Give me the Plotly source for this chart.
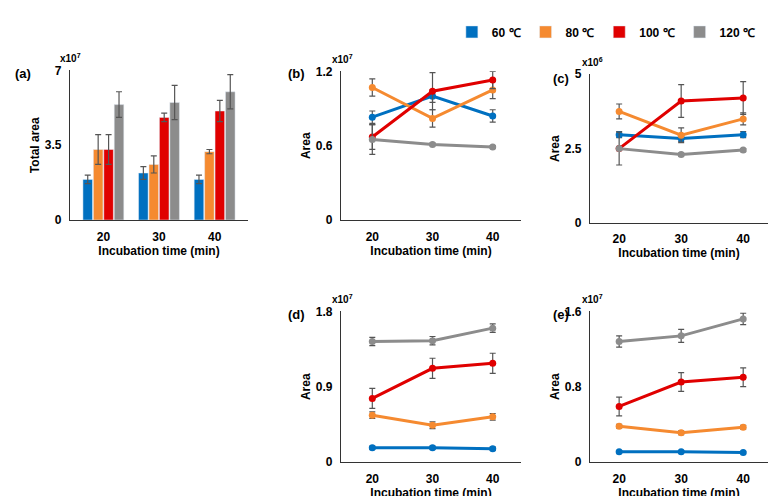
import plotly.graph_objects as go

times = [20, 30, 40]
time_labels = ["20", "30", "40"]
series = ["60 ℃", "80 ℃", "100 ℃", "120 ℃"]
colors = ["#0070C0", "#F58A30", "#E00000", "#8C8C8C"]

# Panel a (x10^7)
a_vals = [[1.9, 2.2, 1.9], [3.3, 2.6, 3.2], [3.3, 4.8, 5.1], [5.4, 5.5, 6.0]]
a_err = [[0.2, 0.3, 0.2], [0.7, 0.4, 0.1], [0.7, 0.2, 0.5], [0.6, 0.8, 0.8]]
# Panel b (x10^7)
b_vals = [[0.83, 1.00, 0.84], [1.07, 0.82, 1.05], [0.67, 1.04, 1.13], [0.65, 0.61, 0.59]]
b_err = [[0.05, 0.05, 0.05], [0.07, 0.07, 0.07], [0.10, 0.15, 0.07], [0.12, 0.01, 0.01]]
# Panel c (x10^6)
c_vals = [[2.97, 2.84, 2.97], [3.75, 2.95, 3.5], [2.5, 4.1, 4.2], [2.5, 2.3, 2.45]]
c_err = [[0.1, 0.1, 0.1], [0.25, 0.25, 0.2], [0.05, 0.55, 0.55], [0.55, 0.05, 0.05]]
# Panel d (x10^7)
d_vals = [[0.17, 0.17, 0.16], [0.56, 0.44, 0.54], [0.76, 1.12, 1.18], [1.44, 1.45, 1.60]]
d_err = [[0.02, 0.02, 0.02], [0.04, 0.04, 0.04], [0.12, 0.12, 0.12], [0.05, 0.05, 0.05]]
# Panel e (x10^7)
e_vals = [[0.11, 0.11, 0.10], [0.38, 0.31, 0.37], [0.59, 0.85, 0.90], [1.28, 1.34, 1.52]]
e_err = [[0.01, 0.01, 0.01], [0.02, 0.02, 0.02], [0.10, 0.10, 0.10], [0.06, 0.07, 0.06]]

W, H = 776, 496
def px(x0, x1): return [x0 / W, x1 / W]
def py(ytop, ybot): return [1 - ybot / H, 1 - ytop / H]

fig = go.Figure()
errc = "#555555"
for i, s in enumerate(series):
    fig.add_trace(go.Bar(x=time_labels, y=a_vals[i], name=s, marker_color=colors[i],
                         error_y=dict(type="data", array=a_err[i], color=errc, thickness=1.2, width=3),
                         xaxis="x", yaxis="y", showlegend=True))

panels = [("2", b_vals, b_err), ("3", c_vals, c_err), ("4", d_vals, d_err), ("5", e_vals, e_err)]
for ax, vals, errs in panels:
    for i in range(4):
        fig.add_trace(go.Scatter(x=times, y=vals[i], mode="lines+markers",
                                 line=dict(color=colors[i], width=3),
                                 marker=dict(color=colors[i], size=7),
                                 error_y=dict(type="data", array=errs[i], color=errc, thickness=1.2, width=3),
                                 xaxis="x" + ax, yaxis="y" + ax, showlegend=False))

font = dict(family="Arial, Liberation Sans", size=12, color="black")
common = dict(showline=True, linecolor="#333", linewidth=1.2, showgrid=False, zeroline=False,
              ticks="", ticklabelstandoff=5,
              tickfont=dict(family="Arial, Liberation Sans", size=12, color="black", weight="bold"))
def xt(): return dict(text="<b>Incubation time (min)</b>", font=dict(size=12), standoff=2)
def yt(t): return dict(text="<b>" + t + "</b>", font=dict(size=12), standoff=2)

layout = dict(
    width=W, height=H, margin=dict(l=0, r=0, t=0, b=0),
    plot_bgcolor="white", paper_bgcolor="white", font=font,
    bargap=0.25, bargroupgap=0.08, barmode="group",
    legend=dict(orientation="h", x=0.572, y=0.995, xanchor="left", yanchor="top",
                font=dict(size=12, weight="bold"), itemwidth=30, tracegroupgap=0),
    xaxis=dict(domain=px(62, 240), anchor="y", title=xt(), range=[-0.6, 2.6], **common),
    yaxis=dict(domain=py(57, 211), anchor="x", title=yt("Total area"), range=[0, 7],
               tickvals=[0, 3.5, 7], ticktext=["0", "3.5", "7"], **common),
)
specs = {"2": (333, 513, 58, 211, [14.8, 44.7], [0, 1.2], [0, 0.6, 1.2]),
         "3": (582, 760, 61, 214, [15.3, 44.0], [0, 5], [0, 2.5, 5]),
         "4": (333, 513, 305, 460, [14.8, 44.7], [0, 1.8], [0, 0.9, 1.8]),
         "5": (582, 760, 305, 460, [15.3, 44.0], [0, 1.6], [0, 0.8, 1.6])}
for k, (x0, x1, yt0, yb, xr, yr, tv) in specs.items():
    layout["xaxis" + k] = dict(domain=px(x0, x1), anchor="y" + k, title=xt(), range=xr,
                               tickvals=times, **common)
    layout["yaxis" + k] = dict(domain=py(yt0, yb), anchor="x" + k, title=yt("Area"), range=yr,
                               tickvals=tv, ticktext=[str(v) for v in tv], **common)
fig.update_layout(**layout)

ann = [("(a)", 5, 60), ("(b)", 278, 60), ("(c)", 543, 65), ("(d)", 278, 308), ("(e)", 543, 308)]
for t, x, y in ann:
    fig.add_annotation(text="<b>" + t + "</b>", x=x / W, y=1 - y / H, xref="paper", yref="paper",
                       showarrow=False, xanchor="left", yanchor="middle", font=dict(size=13))
exps = [("x10<sup>7</sup>", 50, 44), ("x10<sup>7</sup>", 322, 45), ("x10<sup>6</sup>", 572, 48),
        ("x10<sup>7</sup>", 322, 292), ("x10<sup>7</sup>", 572, 292)]
for t, x, y in exps:
    fig.add_annotation(text="<b>" + t + "</b>", x=x / W, y=1 - y / H, xref="paper", yref="paper",
                       showarrow=False, xanchor="left", yanchor="middle", font=dict(size=10))

fig.write_html("out.html")
